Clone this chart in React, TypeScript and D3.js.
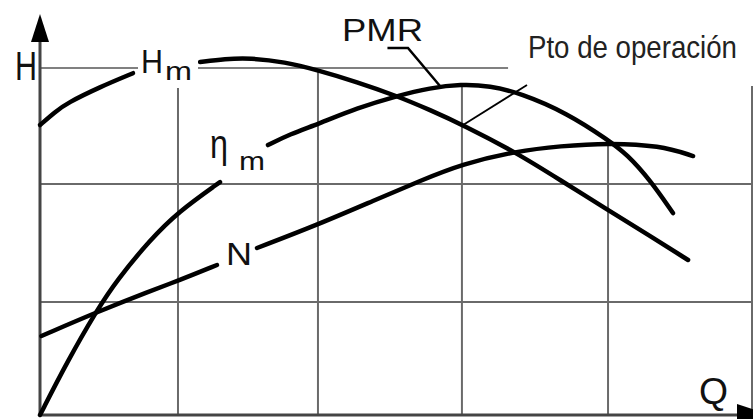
import React from "react";
import * as d3 from "d3";

// Data (Q horizontal, H vertical, arbitrary units)
const hmLeft: [number, number][] = [
  [0, 2.507], [0.105, 2.62], [0.19, 2.697], [0.421, 2.836], [0.653, 2.955],
];
const hmRight: [number, number][] = [
  [1.124, 3.052], [1.299, 3.078], [1.475, 3.087], [1.72, 3.052], [1.945, 2.983],
  [2.226, 2.879], [2.507, 2.758], [2.739, 2.637], [2.971, 2.507], [3.35, 2.265],
  [3.652, 2.032], [3.989, 1.772], [4.284, 1.548], [4.551, 1.34],
];
const etaLeft: [number, number][] = [
  [0, 0.0], [0.19, 0.458], [0.4, 0.908], [0.541, 1.167], [0.772, 1.513],
  [0.969, 1.755], [1.264, 2.014],
];
const etaRight: [number, number][] = [
  [1.601, 2.334], [1.756, 2.429], [1.952, 2.515], [2.226, 2.654], [2.507, 2.759],
  [2.739, 2.828], [2.956, 2.86], [3.16, 2.846], [3.371, 2.784], [3.701, 2.611],
  [3.989, 2.378], [4.122, 2.254], [4.284, 2.032], [4.445, 1.746],
];
const nLeft: [number, number][] = [
  [0.01, 0.683], [0.4, 0.89], [0.772, 1.072], [0.969, 1.16], [1.243, 1.297],
];
const nRight: [number, number][] = [
  [1.524, 1.444], [1.945, 1.643], [2.353, 1.859], [2.669, 2.024], [2.963, 2.17],
  [3.35, 2.282], [3.652, 2.325], [3.989, 2.352], [4.354, 2.33], [4.586, 2.239],
];

// grid
const gridQ = [0.969, 1.952, 2.963, 3.989, 5.0];
const gridQTop = [2.827, 2.983, 2.853, 2.334, 2.844];
const gridH = [0.977, 1.997];
const hLineH = 3.0;
const hLineEndQ = 3.287;

// leader lines
const pmrLeader: [number, number][] = [[2.44, 3.173], [2.584, 3.173], [2.809, 2.844]];
const ptoLeader: [number, number][] = [[3.42, 2.853], [2.971, 2.507]];

const W = 753;
const Hh = 419;
const FONT = "'Liberation Sans', Arial, Helvetica, sans-serif";

export default function App() {
  const x = d3.scaleLinear().domain([0, 5]).range([40, 752]);
  const y = d3.scaleLinear().domain([0, 3]).range([415, 68]);
  const curve = d3
    .line<[number, number]>()
    .x((d) => x(d[0]))
    .y((d) => y(d[1]))
    .curve(d3.curveBasis);
  const straight = d3
    .line<[number, number]>()
    .x((d) => x(d[0]))
    .y((d) => y(d[1]));

  const gridColor = "#6a6a6a";
  const curves = [hmLeft, hmRight, etaLeft, etaRight, nLeft, nRight];

  return (
    <svg
      width={W}
      height={Hh}
      style={{ position: "absolute", left: 0, top: 0, background: "#fff" }}
      fontFamily={FONT}
    >
      <rect x={0} y={0} width={W} height={Hh} fill="#fff" />
      {/* grid */}
      {gridQ.map((q, i) => (
        <line
          key={"v" + i}
          x1={x(q)}
          x2={x(q)}
          y1={y(gridQTop[i])}
          y2={y(0)}
          stroke={gridColor}
          strokeWidth={2}
        />
      ))}
      {gridH.map((h, i) => (
        <line
          key={"h" + i}
          x1={x(0)}
          x2={W}
          y1={y(h)}
          y2={y(h)}
          stroke={gridColor}
          strokeWidth={2}
        />
      ))}
      <line
        x1={x(0)}
        x2={x(hLineEndQ)}
        y1={y(hLineH)}
        y2={y(hLineH)}
        stroke="#808080"
        strokeWidth={2}
      />

      {/* axes */}
      <line x1={x(0)} x2={x(0)} y1={y(0) + 1} y2={40} stroke="#444" strokeWidth={3} />
      <path d={`M${x(0)},14 L${x(0) - 9},42 L${x(0) + 9},42 Z`} fill="#000" />
      <line x1={x(0)} x2={W} y1={y(0)} y2={y(0)} stroke="#444" strokeWidth={3} />
      <path d={`M737,404 L770,415 L737,426 Z`} fill="#000" />

      {/* curves */}
      {curves.map((c, i) => (
        <path
          key={"c" + i}
          d={curve(c) || ""}
          fill="none"
          stroke="#000"
          strokeWidth={4.5}
          strokeLinecap="round"
        />
      ))}

      {/* leaders */}
      <path d={straight(pmrLeader) || ""} fill="none" stroke="#000" strokeWidth={2.5} />
      <path d={straight(ptoLeader) || ""} fill="none" stroke="#000" strokeWidth={1.8} />

      {/* labels */}
      <text x={15} y={80} fontSize={41} textLength={22} lengthAdjust="spacingAndGlyphs" fill="#111">
        H
      </text>
      <rect x={138} y={44} width={60} height={44} fill="#fff" />
      <text x={141} y={73} fontSize={34} textLength={22} lengthAdjust="spacingAndGlyphs" fill="#111">
        H
      </text>
      <text x={165} y={80} fontSize={26} textLength={27} lengthAdjust="spacingAndGlyphs" fill="#111">
        m
      </text>
      <text x={210} y={158} fontSize={40} textLength={18} lengthAdjust="spacingAndGlyphs" fill="#111">
        η
      </text>
      <text x={239} y={170} fontSize={25} textLength={26} lengthAdjust="spacingAndGlyphs" fill="#111">
        m
      </text>
      <text x={226} y={265} fontSize={32} textLength={26} lengthAdjust="spacingAndGlyphs" fill="#111">
        N
      </text>
      <text x={699} y={404} fontSize={37} textLength={29} lengthAdjust="spacingAndGlyphs" fill="#111">
        Q
      </text>
      <text x={342} y={41} fontSize={32} textLength={81} lengthAdjust="spacingAndGlyphs" fill="#111">
        PMR
      </text>
      <text
        transform="translate(528,58) scale(1,1.12)"
        fontSize={27.5}
        textLength={209}
        lengthAdjust="spacingAndGlyphs"
        fill="#222"
      >
        Pto de operación
      </text>
    </svg>
  );
}
